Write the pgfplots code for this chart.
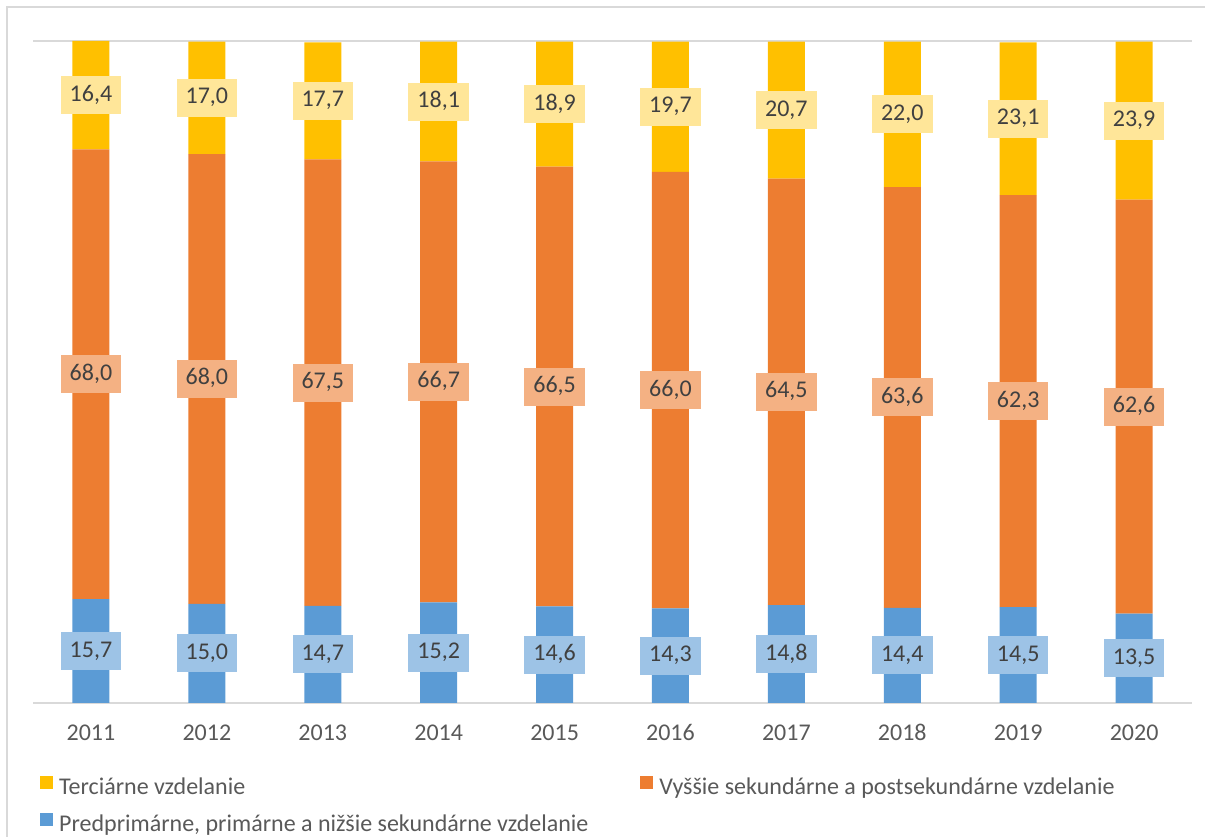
\documentclass[border=0pt]{standalone}
\usepackage{pgfplots}
\pgfplotsset{compat=1.18}
\usepackage{pgfplotstable}
\usepackage{fontspec}
\setmainfont{Carlito}

\definecolor{terc}{HTML}{FFC000}
\definecolor{vyss}{HTML}{ED7D31}
\definecolor{pred}{HTML}{5B9BD5}
\definecolor{tercL}{HTML}{FFE699}
\definecolor{vyssL}{HTML}{F4B183}
\definecolor{predL}{HTML}{9DC3E6}
\definecolor{txt}{HTML}{595959}
\definecolor{lbl}{HTML}{404040}
\definecolor{gridc}{HTML}{D9D9D9}

% podiel obyvatelstva podla vzdelania (%)
\pgfplotstableread{
idx rok  pred vyss terc
0   2011 15.7 68.0 16.4
1   2012 15.0 68.0 17.0
2   2013 14.7 67.5 17.7
3   2014 15.2 66.7 18.1
4   2015 14.6 66.5 18.9
5   2016 14.3 66.0 19.7
6   2017 14.8 64.5 20.7
7   2018 14.4 63.6 22.0
8   2019 14.5 62.3 23.1
9   2020 13.5 62.6 23.9
}\data

\newcommand{\chartfont}{\fontsize{24}{29}\selectfont}

\begin{document}
\begin{tikzpicture}
\useasboundingbox (0,0) rectangle (1205pt,837pt);
\draw[gridc, line width=2pt] (7pt,-2pt) -- (7pt,830pt) -- (1207pt,830pt);
\begin{axis}[
  at={(33pt,134pt)}, anchor=south west,
  width=1159pt, height=662pt, scale only axis,
  ybar stacked, bar width=37pt,
  xmin=-0.5, xmax=9.5, ymin=0, ymax=100.1,
  xtick=data,
  xticklabels={2011,2012,2013,2014,2015,2016,2017,2018,2019,2020},
  ytick={0,100.1}, yticklabels={},
  ymajorgrids, grid style={gridc, line width=1.5pt},
  axis line style={draw=none}, major tick length=0pt,
  xticklabel style={font=\chartfont, text=txt, anchor=base, yshift=-37.5pt},
  /pgf/number format/.cd, fixed, fixed zerofill, precision=1, use comma,
  assume math mode=true, /pgfplots/.cd,
  nodes near coords,
  every node near coord/.append style={anchor=center, font=\chartfont,
    text=lbl, inner xsep=9pt, inner ysep=10pt, text height=15pt,
    text depth=3pt},
  legend columns=2,
  reverse legend,
  legend cell align=left,
  legend image code/.code={\fill[#1] (0pt,0pt) rectangle (13pt,13pt);},
  legend style={at={(0.006,-0.110)}, anchor=north west, draw=none,
    fill=none, inner sep=0pt, font=\chartfont, text=txt, row sep=13pt,
    nodes={inner xsep=6pt, inner ysep=0pt, text height=16pt, text depth=5pt},
    /tikz/every even column/.append style={column sep=46pt}},
]
\addplot[fill=pred, draw=none, point meta={\thisrow{pred}},
  every node near coord/.append style={fill=predL}]
  table[x=idx, y=pred] {\data};
\addlegendentry{Predprimárne, primárne a nižšie sekundárne vzdelanie}
\addplot[fill=vyss, draw=none, point meta={\thisrow{vyss}},
  every node near coord/.append style={fill=vyssL}]
  table[x=idx, y=vyss] {\data};
\addlegendentry{Vyššie sekundárne a postsekundárne vzdelanie}
\addplot[fill=terc, draw=none, point meta={\thisrow{terc}},
  every node near coord/.append style={fill=tercL}]
  table[x=idx, y=terc] {\data};
\addlegendentry{Terciárne vzdelanie}
\end{axis}
\end{tikzpicture}
\end{document}
